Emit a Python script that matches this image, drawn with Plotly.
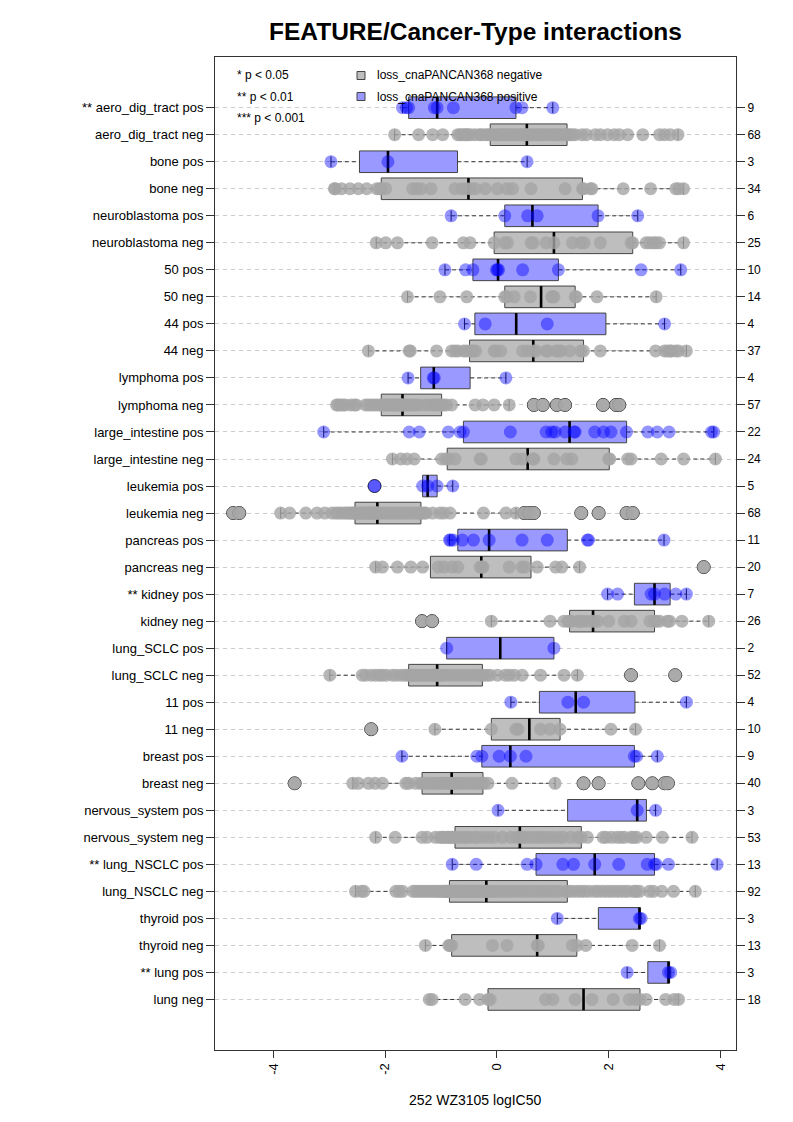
import numpy as np
import plotly.graph_objects as go

# ---------------- data ----------------
row_labels = ["** aero_dig_tract pos", "aero_dig_tract neg", "bone pos", "bone neg",
              "neuroblastoma pos", "neuroblastoma neg", "50 pos", "50 neg", "44 pos", "44 neg",
              "lymphoma pos", "lymphoma neg", "large_intestine pos", "large_intestine neg",
              "leukemia pos", "leukemia neg", "pancreas pos", "pancreas neg",
              "** kidney pos", "kidney neg", "lung_SCLC pos", "lung_SCLC neg",
              "11 pos", "11 neg", "breast pos", "breast neg",
              "nervous_system pos", "nervous_system neg", "** lung_NSCLC pos", "lung_NSCLC neg",
              "thyroid pos", "thyroid neg", "** lung pos", "lung neg"]

aero_pos = [-1.69, -1.62, -1.58, -1.12, -1.07, -0.78, 0.34, 0.45, 1.0]
aero_neg = [-1.83, -1.40, -1.15, -0.97, -0.70, -0.66, -0.62, -0.58, -0.55, -0.52, -0.48, -0.40, -0.32, -0.28, -0.22, -0.17, -0.13,
            -0.11, -0.05, 0.0, 0.05, 0.08, 0.12, 0.15, 0.2, 0.24, 0.28, 0.32, 0.36, 0.4, 0.43, 0.46, 0.5, 0.52,
            0.55, 0.6, 0.65, 0.7, 0.75, 0.78, 0.82, 0.87, 0.9, 0.95, 1.0, 1.05, 1.08, 1.12, 1.16, 1.2, 1.24,
            1.27, 1.3, 1.35, 1.4, 1.52, 1.6, 1.76, 1.85, 1.98, 2.1, 2.19, 2.34, 2.61, 2.91, 3.0, 3.1, 3.24]
bone_pos = [-2.97, -1.95, 0.54]
bone_neg = [-2.91, -2.89, -2.78, -2.63, -2.48, -2.33, -2.15, -2.10, -2.07, -1.99, -1.51, -1.44, -1.36, -1.18,
            -0.75, -0.63, -0.55, -0.47, -0.39, -0.21, 0.01, 0.18, 0.28, 0.61, 1.22, 1.53, 1.55, 1.67, 1.70,
            2.26, 2.75, 3.2, 3.25, 3.34]
neuro_pos = [-0.82, 0.14, 0.55, 0.72, 1.81, 2.52]
neuro_neg = [-2.16, -1.99, -1.78, -1.16, -0.60, -0.48, -0.05, 0.14, 0.19, 0.61, 0.65, 0.88, 1.02, 1.35, 1.50,
             1.56, 1.85, 2.40, 2.43, 2.67, 2.73, 2.80, 2.85, 2.91, 3.34]
c50_pos = [-0.93, -0.56, -0.43, -0.01, 0.01, 0.03, 0.46, 1.10, 2.58, 3.29]
c50_neg = [-1.60, -1.02, -0.54, 0.14, 0.18, 0.31, 0.60, 0.98, 1.00, 1.02, 1.40, 1.42, 1.79, 2.85]
c44_pos = [-0.58, -0.21, 0.90, 3.00]
c44_neg = [-2.30, -1.57, -1.55, -1.08, -0.81, -0.75, -0.70, -0.60, -0.55, -0.49, -0.45, -0.42, -0.38, -0.05,
           -0.02, 0.07, 0.46, 0.55, 0.65, 0.70, 0.88, 0.91, 1.06, 1.10, 1.15, 1.30, 1.50, 1.55, 1.85, 2.84,
           3.00, 3.05, 3.10, 3.12, 3.20, 3.25, 3.39]
lymph_pos = [-1.59, -1.14, -1.12, 0.16]
lymph_neg = [-2.87, -2.84, -2.80, -2.75, -2.72, -2.62, -2.55, -2.52, -2.35, -2.30, -2.25, -2.20, -2.15, -2.10,
             -2.07, -2.02, -1.98, -1.95, -1.92, -1.88, -1.85, -1.82, -1.80, -1.78, -1.75, -1.73, -1.71, -1.70,
             -1.69, -1.65, -1.62, -1.58, -1.55, -1.50, -1.45, -1.40, -1.30, -1.22, -1.15, -1.10, -1.05, -1.01,
             -0.99, -0.95, -0.90, -0.81, -0.39, -0.25, -0.05, 0.22, 0.66, 0.82, 1.07, 1.22, 1.90, 2.13, 2.19]
li_pos = [-3.10, -1.57, -1.39, -0.87, -0.66, -0.60, 0.24, 0.88, 0.98, 1.04, 1.22, 1.38, 1.40, 1.75, 1.91,
          2.04, 2.32, 2.70, 2.87, 3.08, 3.84, 3.88]
li_neg = [-1.87, -1.72, -1.61, -1.48, -0.99, -0.92, -0.86, -0.75, -0.30, -0.28, 0.34, 0.45, 0.65, 0.66, 1.02,
          1.25, 1.34, 2.00, 2.02, 2.34, 2.40, 2.94, 3.34, 3.91]
leuk_pos = [-2.19, -1.33, -1.24, -1.07, -0.79]
leuk_neg = [-4.72, -4.61, -3.87, -3.71, -3.42, -3.22, -3.08, -2.95, -2.88, -2.83, -2.78, -2.72, -2.68, -2.64,
            -2.60, -2.57, -2.55, -2.53, -2.50, -2.47, -2.44, -2.41, -2.38, -2.35, -2.32, -2.30, -2.27, -2.25,
            -2.22, -2.20, -2.18, -2.17, -2.16, -2.15, -2.13, -2.10, -2.05, -2.00, -1.95, -1.90, -1.85, -1.80,
            -1.75, -1.70, -1.65, -1.60, -1.55, -1.50, -1.45, -1.40, -1.37, -1.35, -1.30, -1.27, -1.15, -1.02,
            -0.95, -0.84, -0.24, 0.16, 0.34, 0.49, 0.58, 0.66, 1.51, 1.82, 2.32, 2.43]
panc_pos = [-0.85, -0.83, -0.78, -0.62, -0.42, -0.14, 0.45, 0.90, 1.62, 1.64, 2.99]
panc_neg = [-2.17, -2.05, -1.78, -1.54, -1.33, -1.05, -0.95, -0.80, -0.70, -0.30, -0.26, -0.25, 0.22, 0.45,
            0.50, 0.72, 1.05, 1.16, 1.48, 3.70]
kid_pos = [1.98, 2.16, 2.76, 2.82, 3.00, 3.20, 3.39]
kid_neg = [-1.34, -1.16, -0.10, 0.95, 1.20, 1.27, 1.30, 1.33, 1.45, 1.50, 1.52, 1.60, 1.70, 1.74, 1.80, 2.00,
           2.28, 2.40, 2.74, 2.82, 2.85, 2.91, 3.05, 3.09, 3.31, 3.79]
sclc_pos = [-0.90, 1.02]
sclc_neg = [-2.99, -2.41, -2.35, -2.25, -2.17, -2.10, -2.05, -1.98, -1.87, -1.80, -1.72, -1.65, -1.60, -1.56,
            -1.52, -1.48, -1.44, -1.40, -1.35, -1.30, -1.25, -1.20, -1.16, -1.12, -1.10, -1.08, -1.06, -1.02,
            -0.98, -0.92, -0.85, -0.78, -0.70, -0.62, -0.55, -0.48, -0.40, -0.33, -0.28, -0.24, -0.18, -0.12,
            0.01, 0.15, 0.22, 0.31, 0.45, 0.78, 1.20, 1.44, 2.40, 3.19]
c11_pos = [0.25, 1.27, 1.55, 3.39]
c11_neg = [-2.25, -1.11, -0.10, 0.34, 0.38, 0.78, 0.95, 1.13, 2.04, 2.48]
breast_pos = [-1.70, -0.36, -0.27, 0.04, 0.24, 0.52, 2.46, 2.50, 2.87]
breast_neg = [-3.62, -2.58, -2.48, -2.30, -2.18, -2.05, -1.63, -1.58, -1.45, -1.36, -1.32, -1.25, -1.18, -1.10,
              -1.05, -1.00, -0.95, -0.90, -0.86, -0.83, -0.79, -0.75, -0.70, -0.64, -0.58, -0.52, -0.45, -0.38,
              -0.32, -0.27, -0.23, -0.16, 0.27, 1.04, 1.55, 1.82, 2.53, 2.78, 3.00, 3.06]
ns_pos = [0.02, 2.51, 2.84]
ns_neg = [-2.17, -1.82, -1.34, -1.25, -1.10, -1.02, -0.98, -0.95, -0.90, -0.87, -0.83, -0.80, -0.77, -0.75,
          -0.70, -0.62, -0.55, -0.50, -0.40, -0.35, -0.25, -0.15, -0.05, 0.10, 0.25, 0.35, 0.41, 0.46, 0.52,
          0.60, 0.68, 0.75, 0.82, 0.90, 1.00, 1.10, 1.18, 1.32, 1.45, 1.51, 1.62, 1.90, 1.95, 2.05, 2.15,
          2.22, 2.28, 2.40, 2.45, 2.50, 2.67, 2.96, 3.49]
nsclc_pos = [-0.80, -0.37, 0.54, 0.70, 1.18, 1.37, 1.75, 2.18, 2.69, 2.82, 2.85, 3.07, 3.94]
nsclc_neg = [-2.53, -2.42, -2.38, -1.81, -1.75, -1.69, -1.50, -1.45, -1.40, -1.35, -1.30, -1.25, -1.20, -1.15,
             -1.10, -1.06, -1.02, -0.98, -0.95, -0.92, -0.90, -0.88, -0.86, -0.84,
             -0.82, -0.79, -0.76, -0.73, -0.70, -0.67, -0.64, -0.61, -0.58, -0.55, -0.52, -0.49, -0.46, -0.43,
             -0.40, -0.37, -0.34, -0.31, -0.28, -0.25, -0.22, -0.20, -0.18,
             -0.15, -0.10, -0.05, 0.00, 0.05, 0.10, 0.15, 0.20, 0.25, 0.30, 0.38, 0.45, 0.52, 0.60, 0.68, 0.75,
             0.82, 0.90, 0.98, 1.05, 1.12, 1.24, 1.28,
             1.35, 1.43, 1.50, 1.57, 1.65, 1.75, 1.82, 1.90, 1.98, 2.05, 2.13, 2.20, 2.28, 2.35, 2.45, 2.49,
             2.55, 2.73, 2.80, 2.95, 3.16, 3.55]
thy_pos = [1.08, 2.55, 2.58]
thy_neg = [-1.28, -0.86, -0.84, -0.81, -0.08, 0.18, 0.72, 0.74, 1.35, 1.43, 1.59, 2.42, 2.91]
lung_pos = [2.33, 3.07, 3.11]
lung_neg = [-1.21, -1.16, -0.57, -0.31, -0.16, -0.12, 0.87, 1.00, 1.40, 1.70, 2.08, 2.37, 2.48, 2.56, 2.67,
            3.02, 3.17, 3.25]

group_values = [aero_pos, aero_neg, bone_pos, bone_neg, neuro_pos, neuro_neg, c50_pos, c50_neg,
                c44_pos, c44_neg, lymph_pos, lymph_neg, li_pos, li_neg, leuk_pos, leuk_neg,
                panc_pos, panc_neg, kid_pos, kid_neg, sclc_pos, sclc_neg, c11_pos, c11_neg,
                breast_pos, breast_neg, ns_pos, ns_neg, nsclc_pos, nsclc_neg, thy_pos, thy_neg,
                lung_pos, lung_neg]

title_text = "FEATURE/Cancer-Type interactions"
x_title = "252 WZ3105 logIC50"
x_ticks = [-4, -2, 0, 2, 4]
sig_legend = ["* p < 0.05", "** p < 0.01", "*** p < 0.001"]
grp_legend = ["loss_cnaPANCAN368 negative", "loss_cnaPANCAN368 positive"]

# ---------------- styles ----------------
FONT = "Liberation Sans, Arial, Helvetica, sans-serif"
BOX_FILL = {"neg": "#BEBEBE", "pos": "#9999FF"}
PT_COL = {"neg": "rgba(165,165,165,0.8)", "pos": "rgba(0,0,255,0.42)"}
EDGE = "#444444"
HALF_BOX = 0.4
HALF_STAPLE = 0.2

# page offset (browser body margin) and figure geometry
W, H = 785, 1114
ML, MT = 207, 49
PW, PH = 521, 993
MR, MB = W - ML - PW, H - MT - PH
OFF = 8  # px offset of figure inside page


def fivenum(v):
    x = np.sort(np.asarray(v, float))
    n = len(x)
    n4 = np.floor((n + 3) / 2) / 2
    d = np.array([1, n4, (n + 1) / 2, n + 1 - n4, n])
    return 0.5 * (x[np.floor(d - 1).astype(int)] + x[np.ceil(d - 1).astype(int)])


fig = go.Figure()

box_x = {"neg": [], "pos": []}
box_y = {"neg": [], "pos": []}
wh_x, wh_y, st_x, st_y, md_x, md_y = [], [], [], [], [], []
out = {"neg": ([], []), "pos": ([], [])}
pts = {"neg": ([], []), "pos": ([], [])}

for i, (lab, vals) in enumerate(zip(row_labels, group_values)):
    yy = i + 1
    kind = "pos" if lab.endswith("pos") else "neg"
    arr = np.asarray(vals, float)
    s = fivenum(arr)
    iqr = s[3] - s[1]
    lo_f, hi_f = s[1] - 1.5 * iqr, s[3] + 1.5 * iqr
    inside = arr[(arr >= lo_f) & (arr <= hi_f)]
    wlo, whi = inside.min(), inside.max()
    outl = arr[(arr < lo_f) | (arr > hi_f)]

    box_x[kind] += [s[1], s[3], s[3], s[1], s[1], None]
    box_y[kind] += [yy - HALF_BOX, yy - HALF_BOX, yy + HALF_BOX, yy + HALF_BOX, yy - HALF_BOX, None]
    wh_x += [wlo, s[1], None, s[3], whi, None]
    wh_y += [yy, yy, None, yy, yy, None]
    st_x += [wlo, wlo, None, whi, whi, None]
    st_y += [yy - HALF_STAPLE, yy + HALF_STAPLE, None, yy - HALF_STAPLE, yy + HALF_STAPLE, None]
    md_x += [s[2], s[2], None]
    md_y += [yy - HALF_BOX, yy + HALF_BOX, None]
    out[kind][0].extend(outl.tolist())
    out[kind][1].extend([yy] * len(outl))
    pts[kind][0].extend(arr.tolist())
    pts[kind][1].extend([yy] * len(arr))

for kind in ["neg", "pos"]:
    fig.add_trace(go.Scatter(x=box_x[kind], y=box_y[kind], mode="lines", fill="toself",
                             fillcolor=BOX_FILL[kind], line=dict(color=EDGE, width=1),
                             hoverinfo="skip", showlegend=False))
fig.add_trace(go.Scatter(x=wh_x, y=wh_y, mode="lines",
                         line=dict(color="#333333", width=1, dash="4px,3px"),
                         hoverinfo="skip", showlegend=False))
fig.add_trace(go.Scatter(x=st_x, y=st_y, mode="lines", line=dict(color="#222222", width=1),
                         hoverinfo="skip", showlegend=False))
fig.add_trace(go.Scatter(x=md_x, y=md_y, mode="lines", line=dict(color="black", width=2.6),
                         hoverinfo="skip", showlegend=False))
for kind in ["neg", "pos"]:
    fig.add_trace(go.Scatter(x=out[kind][0], y=out[kind][1], mode="markers",
                             marker=dict(size=13, color=BOX_FILL[kind], line=dict(color="#222222", width=1)),
                             showlegend=False))
for kind in ["neg", "pos"]:
    fig.add_trace(go.Scatter(x=pts[kind][0], y=pts[kind][1], mode="markers",
                             marker=dict(size=13, color=PT_COL[kind], line=dict(width=0)),
                             showlegend=False))

counts = [str(len(v)) for v in group_values]
tickpos = list(range(1, len(row_labels) + 1))
fig.add_trace(go.Scatter(x=[None], y=[None], yaxis="y2", showlegend=False, hoverinfo="skip"))

YR = [35.87, -0.876]
fig.update_layout(
    width=W, height=H,
    margin=dict(l=ML, r=MR, t=MT, b=MB),
    paper_bgcolor="white", plot_bgcolor="white",
    font=dict(family=FONT, color="black", size=13),
    title=dict(text="<b>" + title_text + "</b>", x=0.5, xref="paper", xanchor="center",
               y=1 - (31 - OFF) / H, yref="container", yanchor="middle",
               font=dict(size=24.5, family=FONT, color="black")),
    xaxis=dict(range=[-5.045, 4.278], tickvals=x_ticks, ticktext=[str(t) for t in x_ticks],
               tickangle=-90, ticks="outside", ticklen=7, tickcolor="#333333",
               showline=True, mirror=True, linecolor="#333333", linewidth=1,
               showgrid=False, zeroline=False, tickfont=dict(size=13)),
    yaxis=dict(range=YR, tickvals=tickpos, ticktext=row_labels, ticks="outside", ticklen=8,
               tickcolor="#333333", showline=True, mirror=True, linecolor="#333333", linewidth=1,
               showgrid=True, gridcolor="#CCCCCC", griddash="4px,4px", gridwidth=1,
               zeroline=False, tickfont=dict(size=13)),
    yaxis2=dict(range=YR, tickvals=tickpos, ticktext=counts, overlaying="y", side="right", anchor="x",
                ticks="outside", ticklen=8, tickcolor="#333333", showline=False, showgrid=False,
                zeroline=False, tickfont=dict(size=12)),
)

# axis title
fig.add_annotation(text=x_title, xref="paper", yref="paper", x=0.5, y=(1050 - 1100) / PH,
                   xanchor="center", yanchor="middle", showarrow=False, font=dict(size=14))

# significance key
for k, txt in enumerate(sig_legend):
    ypix = 75 + k * 21.5
    fig.add_annotation(text=txt, xref="paper", yref="paper", x=(235 - 215) / PW,
                       y=1 - (ypix - 57) / PH, xanchor="left", yanchor="middle",
                       showarrow=False, font=dict(size=12))

# group key
for k, (txt, kind) in enumerate(zip(grp_legend, ["neg", "pos"])):
    ypix = 75.5 + k * 21
    yc = 1 - (ypix - 57) / PH
    fig.add_shape(type="rect", xref="paper", yref="paper",
                  x0=(357 - 215) / PW, x1=(365 - 215) / PW,
                  y0=yc - 4 / PH, y1=yc + 4 / PH,
                  fillcolor=BOX_FILL[kind], line=dict(color=EDGE, width=1))
    fig.add_annotation(text=txt, xref="paper", yref="paper", x=(375 - 215) / PW, y=yc,
                       xanchor="left", yanchor="middle", showarrow=False, font=dict(size=12))

fig.write_html("out.html")
